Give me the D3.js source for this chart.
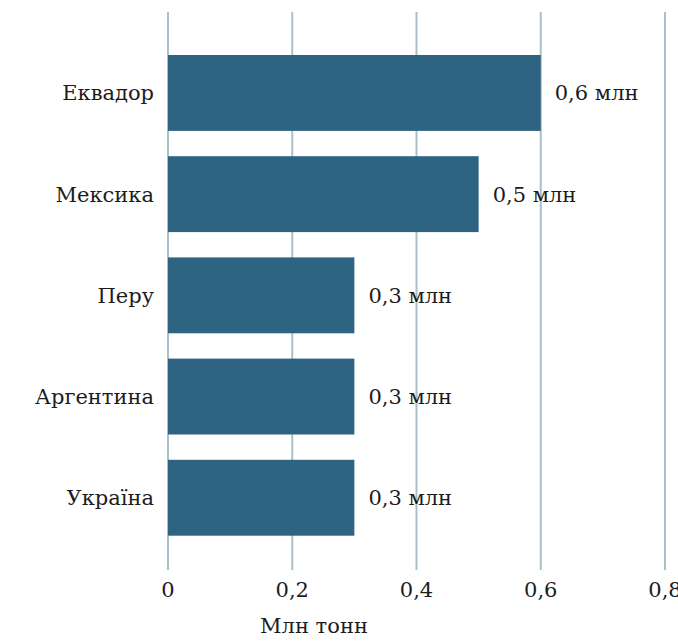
<!DOCTYPE html>
<html>
<head>
<meta charset="utf-8">
<script src="https://cdn.jsdelivr.net/npm/d3@7"></script>
<style>
  body { margin: 0; background: #fff; }
  svg text { font-family: "DejaVu Serif", "Liberation Serif", serif; fill: #1c1c1c; }
</style>
</head>
<body>
<div id="chart"></div>
<script>
var countries = ["Еквадор", "Мексика", "Перу", "Аргентина", "Україна"];
var values = [0.6, 0.5, 0.3, 0.3, 0.3];
var ticks = [0, 0.2, 0.4, 0.6, 0.8];

var width = 678, height = 642;

var svg = d3.select("#chart").append("svg")
  .attr("width", width)
  .attr("height", height);

var x = d3.scaleLinear().domain([0, 0.8]).range([168, 665]);
var y = d3.scaleBand().domain(countries).range([42.35, 548.35])
  .paddingInner(0.25).paddingOuter(0.125);

var fmt = function(v) { return d3.format(".1f")(v).replace(".", ","); };
var tickFmt = function(v) { return v === 0 ? "0" : fmt(v); };

// gridlines
svg.append("g").selectAll("line")
  .data(ticks)
  .enter().append("line")
  .attr("x1", d => x(d)).attr("x2", d => x(d))
  .attr("y1", 12).attr("y2", 570)
  .attr("stroke", "#a9bfca")
  .attr("stroke-width", 2);

// tick labels
svg.append("g").selectAll("text")
  .data(ticks)
  .enter().append("text")
  .attr("x", d => x(d))
  .attr("y", 590)
  .attr("dy", "0.35em")
  .attr("text-anchor", "middle")
  .style("font-size", "21px")
  .text(tickFmt);

// bars
var data = countries.map((c, i) => ({ country: c, value: values[i] }));

svg.append("g").selectAll("rect")
  .data(data)
  .enter().append("rect")
  .attr("x", x(0))
  .attr("y", d => y(d.country))
  .attr("width", d => x(d.value) - x(0))
  .attr("height", y.bandwidth())
  .attr("fill", "#2e6482");

// category labels
svg.append("g").selectAll("text")
  .data(data)
  .enter().append("text")
  .attr("x", x(0) - 14)
  .attr("y", d => y(d.country) + y.bandwidth() / 2)
  .attr("dy", "0.35em")
  .attr("text-anchor", "end")
  .style("font-size", "21px")
  .text(d => d.country);

// value labels
svg.append("g").selectAll("text")
  .data(data)
  .enter().append("text")
  .attr("x", d => x(d.value) + 14)
  .attr("y", d => y(d.country) + y.bandwidth() / 2)
  .attr("dy", "0.35em")
  .style("font-size", "21px")
  .text(d => fmt(d.value) + " млн");

// axis title
svg.append("text")
  .attr("x", 314)
  .attr("y", 626)
  .attr("dy", "0.35em")
  .attr("text-anchor", "middle")
  .style("font-size", "21px")
  .text("Млн тонн");
</script>
</body>
</html>
